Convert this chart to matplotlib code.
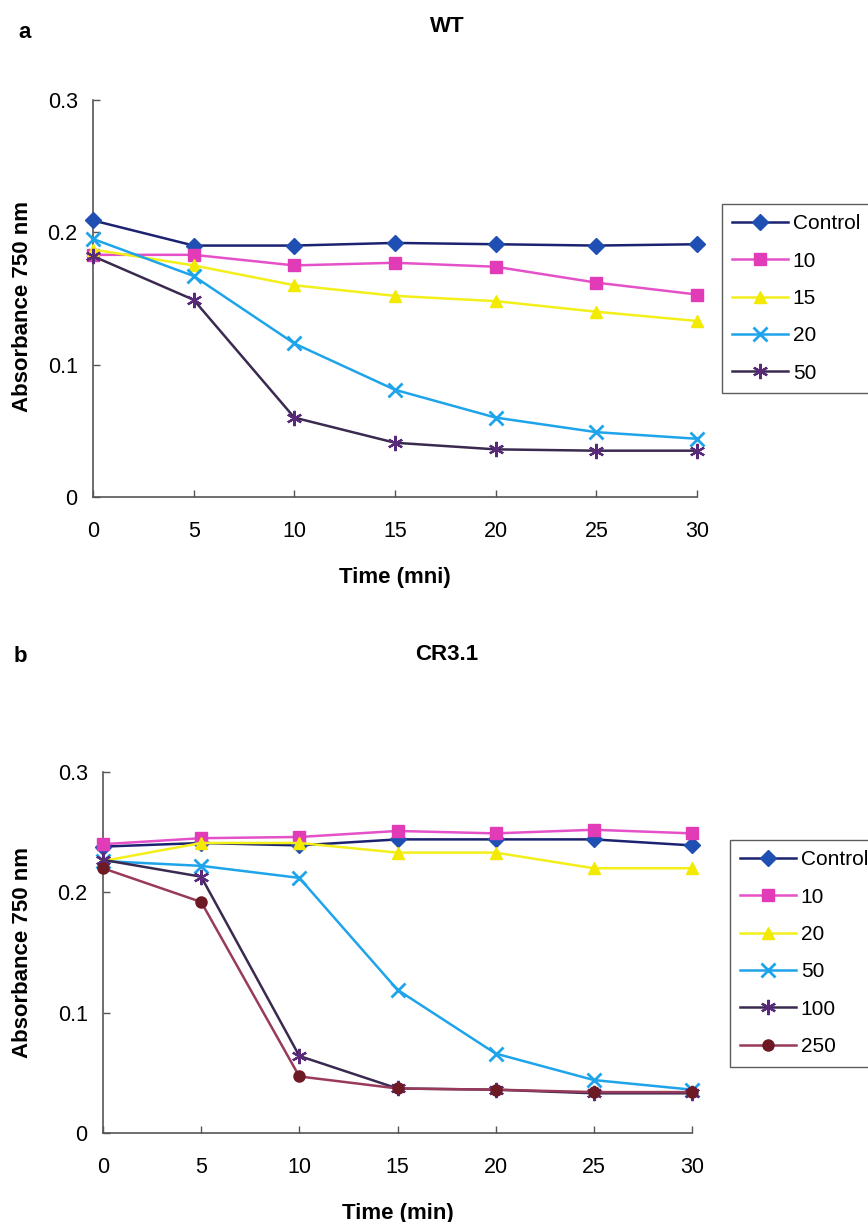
import matplotlib
matplotlib.use("Agg")
import matplotlib.pyplot as plt

plt.rcParams['font.family'] = ['Liberation Sans', 'DejaVu Sans']

time_min = [0, 5, 10, 15, 20, 25, 30]
x_ticks = [0, 5, 10, 15, 20, 25, 30]
y_ticks = [0, 0.1, 0.2, 0.3]
y_tick_labels = ["0", "0.1", "0.2", "0.3"]

# Panel a: WT
wt_labels = ["Control", "10", "15", "20", "50"]
wt_control = [0.209, 0.190, 0.190, 0.192, 0.191, 0.190, 0.191]
wt_10 = [0.183, 0.183, 0.175, 0.177, 0.174, 0.162, 0.153]
wt_15 = [0.187, 0.175, 0.160, 0.152, 0.148, 0.140, 0.133]
wt_20 = [0.195, 0.167, 0.116, 0.081, 0.060, 0.049, 0.044]
wt_50 = [0.182, 0.149, 0.060, 0.041, 0.036, 0.035, 0.035]

# Panel b: CR3.1
cr_labels = ["Control", "10", "20", "50", "100", "250"]
cr_control = [0.238, 0.241, 0.239, 0.244, 0.244, 0.244, 0.239]
cr_10 = [0.240, 0.245, 0.246, 0.251, 0.249, 0.252, 0.249]
cr_20 = [0.226, 0.241, 0.241, 0.233, 0.233, 0.220, 0.220]
cr_50 = [0.226, 0.222, 0.212, 0.119, 0.066, 0.044, 0.036]
cr_100 = [0.227, 0.213, 0.064, 0.037, 0.036, 0.033, 0.033]
cr_250 = [0.220, 0.192, 0.047, 0.037, 0.036, 0.034, 0.034]

asterisk = (6, 2, 0)
styles = {
    "control": dict(color="#1b2270", marker="D", mfc="#1f4fb3", mec="#1f4fb3", ms=8),
    "magenta": dict(color="#e451c9", marker="s", mfc="#e23bb8", mec="#e23bb8", ms=8),
    "yellow": dict(color="#f2ef1a", marker="^", mfc="#f2ea00", mec="#f2ea00", ms=9),
    "cyan": dict(color="#1ea4ea", marker="x", mfc="#1ea4ea", mec="#1ea4ea", ms=10, mew=2),
    "purple": dict(color="#3a2a50", marker=asterisk, mfc="#5a2a7a", mec="#5a2a7a", ms=11, mew=1.6),
    "maroon": dict(color="#9a3a5a", marker="o", mfc="#6e1a24", mec="#6e1a24", ms=8),
}

fig = plt.figure(figsize=(8.68, 12.22), dpi=100)
W, H = 868, 1222


def add_axes(left, top, right, bottom):
    return fig.add_axes([left / W, 1 - bottom / H, (right - left) / W, (bottom - top) / H])


def style_axes(ax, xlabel):
    ax.set_xlim(0, 30)
    ax.set_ylim(0, 0.3)
    ax.set_xticks(x_ticks)
    ax.set_yticks(y_ticks)
    ax.set_yticklabels(y_tick_labels)
    for side in ("top", "right"):
        ax.spines[side].set_visible(False)
    for side in ("left", "bottom"):
        ax.spines[side].set_color("#555555")
        ax.spines[side].set_linewidth(1.2)
    ax.tick_params(axis="both", direction="in", length=5, width=1, color="#555555",
                   labelsize=15.5)
    ax.tick_params(axis="x", pad=17)
    ax.tick_params(axis="y", pad=11)
    ax.set_xlabel(xlabel, fontsize=16, fontweight="bold", labelpad=18)
    ax.set_ylabel("Absorbance 750 nm", fontsize=16, fontweight="bold")


def plot_series(ax, values, label, key):
    st = dict(styles[key])
    ax.plot(time_min, values, label=label, lw=1.8, clip_on=False, zorder=3, **st)


legend_kw = dict(loc="upper left", bbox_transform=fig.transFigure, fontsize=15,
                 frameon=True, fancybox=False, edgecolor="#333333",
                 handlelength=2.65, handletextpad=0.25, labelspacing=0.88,
                 borderpad=0.5, borderaxespad=0)

# Panel a
ax1 = add_axes(93, 100, 697, 497)
series_a = [wt_control, wt_10, wt_15, wt_20, wt_50]
keys_a = ["control", "magenta", "yellow", "cyan", "purple"]
for vals, lab, key in zip(series_a, wt_labels, keys_a):
    plot_series(ax1, vals, lab, key)
style_axes(ax1, "Time (mni)")
ax1.yaxis.set_label_coords((33 - 93) / 604, 0.48)
leg1 = ax1.legend(bbox_to_anchor=(722 / W, 1 - 204 / H), **legend_kw)
leg1.get_frame().set_linewidth(1.0)

# Panel b
ax2 = add_axes(103, 772, 692, 1133)
series_b = [cr_control, cr_10, cr_20, cr_50, cr_100, cr_250]
keys_b = ["control", "magenta", "yellow", "cyan", "purple", "maroon"]
for vals, lab, key in zip(series_b, cr_labels, keys_b):
    plot_series(ax2, vals, lab, key)
style_axes(ax2, "Time (min)")
ax2.yaxis.set_label_coords((33 - 103) / 589, 0.5)
leg2 = ax2.legend(bbox_to_anchor=(730 / W, 1 - 840 / H), **legend_kw)
leg2.get_frame().set_linewidth(1.0)

# Titles and panel letters
fig.text(447 / W, 1 - 27 / H, "WT", ha="center", va="center", fontsize=16, fontweight="bold")
fig.text(447 / W, 1 - 654 / H, "CR3.1", ha="center", va="center", fontsize=16, fontweight="bold")
fig.text(25 / W, 1 - 32 / H, "a", ha="center", va="center", fontsize=16, fontweight="bold")
fig.text(20 / W, 1 - 656 / H, "b", ha="center", va="center", fontsize=16, fontweight="bold")

fig.savefig("out.png", dpi=100)
